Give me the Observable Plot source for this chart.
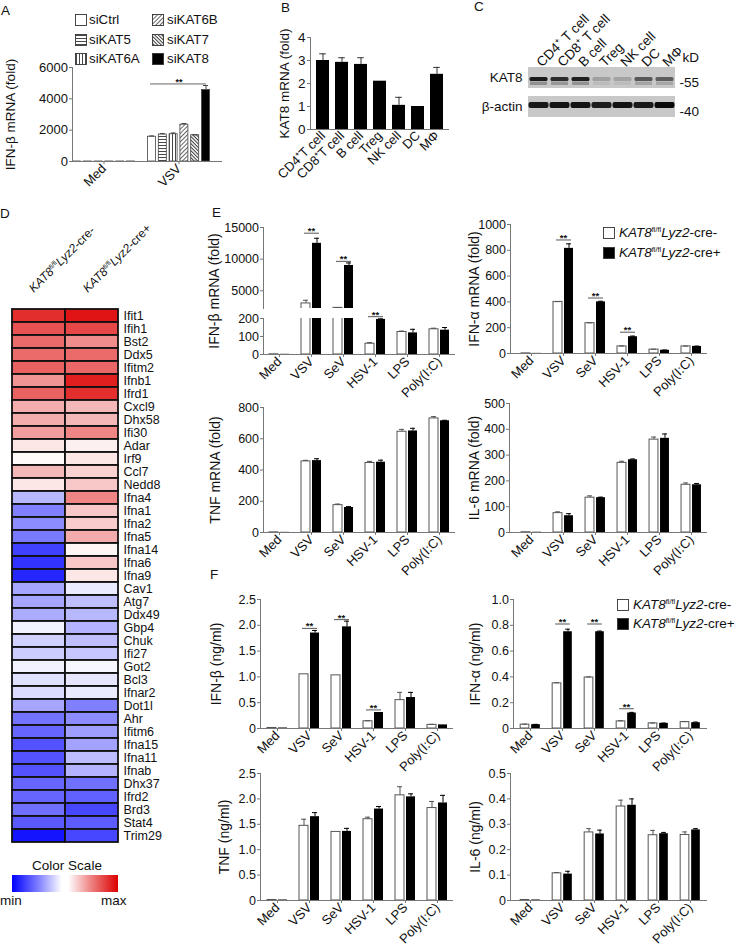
<!DOCTYPE html>
<html><head><meta charset="utf-8">
<script src="https://cdn.jsdelivr.net/npm/d3@7"></script>
<script src="https://cdn.jsdelivr.net/npm/@observablehq/plot@0.6"></script>
<style>
body{margin:0;background:#fff;font-family:"Liberation Sans",Arial,Helvetica,sans-serif;}
#page{position:relative;width:735px;height:947px;overflow:hidden;background:#fff;}
.t{position:absolute;white-space:nowrap;line-height:1;color:#111;}
.sup{font-size:0.55em;vertical-align:0.65em;line-height:0;}
</style></head><body>
<svg width="0" height="0" style="position:absolute">
<defs>
<pattern id="ph" patternUnits="userSpaceOnUse" width="4" height="3"><rect width="4" height="3" fill="#fff"/><line x1="0" y1="1.5" x2="4" y2="1.5" stroke="#333" stroke-width="0.9"/></pattern>
<pattern id="pv" patternUnits="userSpaceOnUse" width="3" height="4"><rect width="3" height="4" fill="#fff"/><line x1="1.5" y1="0" x2="1.5" y2="4" stroke="#333" stroke-width="0.9"/></pattern>
<pattern id="pd1" patternUnits="userSpaceOnUse" width="3" height="3" patternTransform="rotate(45)"><rect width="3" height="3" fill="#fff"/><line x1="1.5" y1="0" x2="1.5" y2="3" stroke="#555" stroke-width="0.9"/></pattern>
<pattern id="pd2" patternUnits="userSpaceOnUse" width="2.5" height="2.5" patternTransform="rotate(-45)"><rect width="2.5" height="2.5" fill="#fff"/><line x1="1.25" y1="0" x2="1.25" y2="2.5" stroke="#333" stroke-width="1"/></pattern>
</defs></svg>
<div id="page"></div>
<script>
// ---------------- DATA ----------------
// Panel A
const aCats = ["Med", "VSV"];
const aSeries = ["siCtrl", "siKAT5", "siKAT6A", "siKAT6B", "siKAT7", "siKAT8"];
const aMed = [1, 1, 1, 1, 1, 1];
const aVSV = [1580, 1720, 1740, 2350, 1680, 4560];
const aVSVErr = [1630, 1780, 1820, 2420, 1700, 4850];
const aSigY = 4950;
const aTicks = [0, 2000, 4000, 6000];

// Panel B
const bCells = ["CD4⁺T cell", "CD8⁺T cell", "B cell", "Treg", "NK cell", "DC", "MΦ"];
const bVals = [3.0, 2.92, 2.83, 2.1, 1.05, 1.0, 2.4];
const bErr = [3.29, 3.12, 3.12, 2.1, 1.4, 1.0, 2.7];
const bTicks = [0, 1, 2, 3, 4];

// Panel C (western blot band intensities)
const cLanes = ["CD4⁺ T cell", "CD8⁺ T cell", "B cell", "Treg", "NK cell", "DC", "MΦ"];
const cRows = ["KAT8", "β-actin"];
const cKat8 = [0.95, 0.85, 0.92, 0.22, 0.2, 0.62, 0.58];
const cActin = [0.92, 0.95, 0.95, 0.9, 0.95, 0.92, 1.0];
const cMarkers = ["-55", "-40"];

// Panel D (heatmap, scaled -1 = min ... 1 = max)
const dGenes = ["Ifit1","Ifih1","Bst2","Ddx5","Ifitm2","Ifnb1","Ifrd1","Cxcl9","Dhx58","Ifi30","Adar","Irf9","Ccl7","Nedd8","Ifna4","Ifna1","Ifna2","Ifna5","Ifna14","Ifna6","Ifna9","Cav1","Atg7","Ddx49","Gbp4","Chuk","Ifi27","Got2","Bcl3","Ifnar2","Dot1l","Ahr","Ifitm6","Ifna15","Ifna11","Ifnab","Dhx37","Ifrd2","Brd3","Stat4","Trim29"];
const dNeg = [0.82,0.68,0.58,0.58,0.62,0.42,0.62,0.32,0.32,0.38,0.1,0.02,0.28,0.1,-0.28,-0.5,-0.45,-0.52,-0.75,-0.8,-0.85,-0.35,-0.35,-0.33,-0.05,-0.18,-0.2,-0.05,-0.12,-0.14,-0.35,-0.55,-0.6,-0.68,-0.68,-0.68,-0.6,-0.6,-0.56,-0.65,-0.92];
const dPos = [0.92,0.72,0.45,0.58,0.6,0.88,0.82,0.28,0.28,0.48,0.06,0.1,0.18,0.22,0.48,0.22,0.2,0.33,0.04,0.22,0.1,-0.08,-0.25,-0.28,-0.3,-0.25,-0.22,-0.03,-0.1,-0.08,-0.5,-0.45,-0.38,-0.36,-0.26,-0.3,-0.56,-0.62,-0.72,-0.64,-0.72];

// Panels E / F
const stim = ["Med", "VSV", "SeV", "HSV-1", "LPS", "Poly(I:C)"];
const eIfnbNeg = [1, 3000, 2300, 60, 125, 140];
const eIfnbNegErr = [1, 3500, 2350, 66, 130, 146];
const eIfnbPos = [1, 12500, 9000, 195, 120, 135];
const eIfnbPosErr = [1, 13300, 9400, 198, 140, 150];
const sigCats = ["VSV", "SeV", "HSV-1"];
const eIfnbSigY = [14100, 9650, 210];

const eIfnaNeg = [1, 400, 235, 55, 30, 55];
const eIfnaNegErr = [1, 402, 238, 58, 33, 57];
const eIfnaPos = [1, 815, 400, 130, 25, 55];
const eIfnaPosErr = [1, 850, 405, 135, 27, 57];
const eIfnaSigY = [880, 430, 165];

const eTnfNeg = [1, 455, 175, 445, 645, 730];
const eTnfNegErr = [1, 462, 182, 455, 660, 742];
const eTnfPos = [1, 460, 160, 450, 650, 715];
const eTnfPosErr = [1, 472, 166, 463, 667, 718];

const eIl6Neg = [1, 75, 135, 270, 360, 185];
const eIl6NegErr = [1, 80, 142, 276, 370, 192];
const eIl6Pos = [1, 65, 135, 282, 365, 185];
const eIl6PosErr = [1, 73, 137, 285, 382, 190];

const fIfnbNeg = [0.01, 1.05, 1.03, 0.14, 0.55, 0.07];
const fIfnbNegErr = [0.01, 1.05, 1.03, 0.15, 0.7, 0.08];
const fIfnbPos = [0.01, 1.85, 1.97, 0.31, 0.6, 0.07];
const fIfnbPosErr = [0.01, 1.9, 2.08, 0.31, 0.7, 0.07];
const fIfnbSigY = [1.94, 2.11, 0.36];

const fIfnaNeg = [0.03, 0.35, 0.395, 0.055, 0.04, 0.05];
const fIfnaNegErr = [0.033, 0.355, 0.4, 0.06, 0.042, 0.053];
const fIfnaPos = [0.03, 0.75, 0.75, 0.12, 0.04, 0.045];
const fIfnaPosErr = [0.032, 0.77, 0.755, 0.125, 0.042, 0.05];
const fIfnaSigY = [0.81, 0.81, 0.153];

const fTnfNeg = [0.01, 1.47, 1.35, 1.6, 2.07, 1.82];
const fTnfNegErr = [0.01, 1.6, 1.35, 1.64, 2.24, 1.95];
const fTnfPos = [0.01, 1.65, 1.36, 1.8, 2.04, 1.92];
const fTnfPosErr = [0.01, 1.73, 1.42, 1.85, 2.1, 2.07];

const fIl6Neg = [0.002, 0.107, 0.268, 0.37, 0.257, 0.258];
const fIl6NegErr = [0.002, 0.11, 0.283, 0.395, 0.276, 0.27];
const fIl6Pos = [0.002, 0.104, 0.262, 0.375, 0.263, 0.278];
const fIl6PosErr = [0.002, 0.115, 0.277, 0.4, 0.268, 0.283];

const legendNeg = '<i>KAT8</i><span class="sup">fl/fl</span><i>Lyz2</i>-cre-';
const legendPos = '<i>KAT8</i><span class="sup">fl/fl</span><i>Lyz2</i>-cre+';

// ---------------- HELPERS ----------------
const AX = "#777";
const STYLE = {fontFamily: "'Liberation Sans', Arial, Helvetica, sans-serif", fontSize: "12.5px", overflow: "visible", background: "transparent", color: "#111"};
const page = document.getElementById("page");
const intFmt = d => String(d);
const decFmt = d => d === 0 ? "0" : d.toFixed(1);

function put(node, left, top) {
  node.style.position = "absolute";
  node.style.left = left + "px";
  node.style.top = top + "px";
  page.appendChild(node);
  return node;
}
function txt(html, left, cy, fs, center) {
  const d = document.createElement("div");
  d.className = "t";
  d.style.fontSize = fs + "px";
  d.innerHTML = html;
  put(d, left, cy - fs / 2);
  if (center) d.style.transform = "translateX(-50%)";
  return d;
}
function rot(html, x, yBase, fs) {
  const d = document.createElement("div");
  d.className = "t";
  d.style.fontSize = fs + "px";
  d.innerHTML = html;
  d.style.transformOrigin = `0 ${0.85 * fs}px`;
  d.style.transform = "rotate(-45deg)";
  put(d, x, yBase - 0.85 * fs);
}
function swatch(fill, x, cy, size = 11) {
  const ns = "http://www.w3.org/2000/svg";
  const s = document.createElementNS(ns, "svg");
  s.setAttribute("width", size + 1); s.setAttribute("height", size + 1);
  const r = document.createElementNS(ns, "rect");
  r.setAttribute("x", 0.5); r.setAttribute("y", 0.5);
  r.setAttribute("width", size); r.setAttribute("height", size);
  r.setAttribute("fill", fill); r.setAttribute("stroke", "#333"); r.setAttribute("stroke-width", 0.9);
  s.appendChild(r);
  put(s, x, cy - (size + 1) / 2);
}
function yLabel(label, dx, dy, fs) {
  return Plot.text([label], {frameAnchor: "left", textAnchor: "middle", lineAnchor: "middle", rotate: -90, dx, dy: dy || 0, fontSize: fs});
}

// ---------------- PANEL A ----------------
(function () {
  const x0 = 72, x1 = 222, y0 = 67, y1 = 161, ml = 72, mr = 10, mt = 10, mb = 60;
  const B = 75, step = 10.8, bw = 8;
  const fills = ["#fff", "url(#ph)", "url(#pv)", "url(#pd1)", "url(#pd2)", "#000"];
  const marks = [];
  aSeries.forEach((s, i) => {
    const rows = [{cat: aCats[0], v: aMed[i], e: aMed[i]}, {cat: aCats[1], v: aVSV[i], e: aVSVErr[i]}];
    const off = (i - 2.5) * step;
    const il = B / 2 + off - bw / 2;
    marks.push(Plot.barY(rows, {x: "cat", y: "v", fill: fills[i], stroke: "#444", strokeWidth: 0.8, insetLeft: il, insetRight: B - il - bw}));
    const er = rows.filter(d => d.e > d.v);
    marks.push(Plot.ruleX(er, {x: "cat", y1: "v", y2: "e", dx: off, stroke: "#444"}));
    marks.push(Plot.tickY(er, {x: "cat", y: "e", insetLeft: B / 2 + off - 2.5, insetRight: B / 2 - off - 2.5, stroke: "#444"}));
  });
  const sig = [{cat: "VSV", y: aSigY}];
  marks.push(
    Plot.tickY(sig, {x: "cat", y: "y", insetLeft: 9, insetRight: 10, stroke: "#666"}),
    Plot.text(sig, {x: "cat", y: "y", text: () => "**", dy: -2, fontSize: 9, fontWeight: "bold"}),
    Plot.frame({anchor: "left", stroke: AX}),
    Plot.ruleY([0], {stroke: AX}),
    Plot.axisY({ticks: aTicks, tickFormat: intFmt, tickSize: 3, tickPadding: 1.5, stroke: AX, label: null, fontSize: 13}),
    Plot.axisX({tickRotate: -45, tickSize: 3, tickPadding: 2, stroke: AX, label: null, fontSize: 13}),
    yLabel("IFN-β mRNA (fold)", -62, 0, 13.5)
  );
  const svg = Plot.plot({
    width: ml + (x1 - x0) + mr, height: mt + (y1 - y0) + mb,
    marginLeft: ml, marginRight: mr, marginTop: mt, marginBottom: mb,
    x: {domain: aCats, range: [ml - 6, ml + 144], padding: 0, axis: null},
    y: {domain: [0, 6000], axis: null},
    style: STYLE, marks
  });
  put(svg, x0 - ml, y0 - mt);
  const cols = [[75, 89], [152, 167]];
  const rowsY = [20, 39.5, 59];
  aSeries.forEach((s, i) => {
    const c = cols[Math.floor(i / 3)], cy = rowsY[i % 3];
    swatch(fills[i], c[0], cy);
    txt(s, c[1], cy, 13.3);
  });
})();

// ---------------- PANEL B ----------------
(function () {
  const x0 = 310, x1 = 449, y0 = 37, y1 = 129, ml = 60, mr = 10, mt = 10, mb = 70;
  const rows = bCells.map((c, i) => ({cat: c, v: bVals[i], e: bErr[i]}));
  const er = rows.filter(d => d.e > d.v);
  const svg = Plot.plot({
    width: ml + (x1 - x0) + mr, height: mt + (y1 - y0) + mb,
    marginLeft: ml, marginRight: mr, marginTop: mt, marginBottom: mb,
    x: {domain: bCells, paddingInner: 0.32, paddingOuter: 0.2, axis: null},
    y: {domain: [0, 4], axis: null},
    style: STYLE,
    marks: [
      Plot.ruleX(er, {x: "cat", y1: "v", y2: "e", stroke: "#333"}),
      Plot.tickY(er, {x: "cat", y: "e", insetLeft: 3.2, insetRight: 3.2, stroke: "#333"}),
      Plot.barY(rows, {x: "cat", y: "v", fill: "#000"}),
      Plot.frame({anchor: "left", stroke: AX}),
      Plot.ruleY([0], {stroke: AX}),
      Plot.axisY({ticks: bTicks, tickFormat: intFmt, tickSize: 3, tickPadding: 2, stroke: AX, label: null, fontSize: 13.5}),
      Plot.axisX({tickRotate: -45, tickSize: 0, tickPadding: 4, stroke: AX, label: null, fontSize: 13}),
      yLabel("KAT8 mRNA (fold)", -26, 0, 13.5)
    ]
  });
  put(svg, x0 - ml, y0 - mt);
})();

// ---------------- PANEL C ----------------
(function () {
  const x0 = 527, x1 = 676, y0 = 67, y1 = 117, ml = 75, mr = 45, mt = 62, mb = 8;
  const bg = cRows.flatMap(r => cLanes.map(l => ({lane: l, row: r})));
  const k = cLanes.map((l, i) => ({lane: l, row: cRows[0], v: cKat8[i]}));
  const a = cLanes.map((l, i) => ({lane: l, row: cRows[1], v: cActin[i]}));
  const m = cRows.map((r, i) => ({row: r, t: cMarkers[i]}));
  const svg = Plot.plot({
    width: ml + (x1 - x0) + mr, height: mt + (y1 - y0) + mb,
    marginLeft: ml, marginRight: mr, marginTop: mt, marginBottom: mb,
    x: {domain: cLanes, padding: 0, axis: null},
    y: {domain: cRows, paddingInner: 0.28, paddingOuter: 0, axis: null},
    style: STYLE,
    marks: [
      Plot.cell(bg, {x: "lane", y: "row", fill: "#c8c8c8", inset: 0}),
      Plot.cell(k, {x: "lane", y: "row", fill: "#111", fillOpacity: "v", insetTop: 10, insetBottom: 7, insetLeft: 1.5, insetRight: 1.5, rx: 1.5, ariaLabel: "band"}),
      Plot.cell(k, {x: "lane", y: "row", fill: "#222", fillOpacity: d => d.v * 0.35, insetTop: 14.5, insetBottom: 3, insetLeft: 2, insetRight: 2, ariaLabel: "band"}),
      Plot.cell(a, {x: "lane", y: "row", fill: "#0a0a0a", fillOpacity: "v", insetTop: 6, insetBottom: 9, insetLeft: 0.5, insetRight: 0.5, rx: 2, ariaLabel: "band"}),
      Plot.axisY({anchor: "left", tickSize: 0, tickPadding: 5, fontSize: 13.5, label: null}),
      Plot.axisX({anchor: "top", tickRotate: -45, tickSize: 0, tickPadding: 3, fontSize: 13.5, label: null}),
      Plot.text(m, {y: "row", text: "t", frameAnchor: "right", textAnchor: "start", dx: 3, dy: 5, fontSize: 13.5}),
      Plot.text(["kD"], {frameAnchor: "top-right", textAnchor: "start", dx: 6, dy: -15, fontSize: 13.5})
    ]
  });
  svg.querySelectorAll('[aria-label="band"]').forEach(g => g.style.filter = "blur(0.7px)");
  put(svg, x0 - ml, y0 - mt);
})();

// ---------------- PANEL D ----------------
(function () {
  const x0 = 12, x1 = 118, y0 = 297, y1 = 853, ml = 12, mr = 80, mt = 8, mb = 8;
  const rows = dGenes.flatMap((g, i) => [{col: "neg", gene: g, v: dNeg[i]}, {col: "pos", gene: g, v: dPos[i]}]);
  const svg = Plot.plot({
    width: ml + (x1 - x0) + mr, height: mt + (y1 - y0) + mb,
    marginLeft: ml, marginRight: mr, marginTop: mt, marginBottom: mb,
    x: {domain: ["neg", "pos"], padding: 0, axis: null},
    y: {domain: dGenes, padding: 0, axis: null},
    color: {type: "linear", domain: [-1, 0, 1], range: ["#0000ff", "#ffffff", "#dd0000"]},
    style: STYLE,
    marks: [
      Plot.cell(rows, {x: "col", y: "gene", fill: "v", stroke: "#111", strokeWidth: 1.8, inset: 0}),
      Plot.axisY({anchor: "right", tickSize: 0, tickPadding: 5, fontSize: 12.5, label: null})
    ]
  });
  put(svg, x0 - ml, y0 - mt);
  rot(legendNeg, 34, 293, 12);
  rot(legendPos, 88, 293, 12);
  txt("Color Scale", 67, 866, 13.5, true);
  const g = document.createElement("div");
  g.style.width = "106px"; g.style.height = "17px";
  g.style.background = "linear-gradient(to right, #0000ff 0%, #8080ff 25%, #ffffff 47%, #ffffff 53%, #ee8080 75%, #dd0000 100%)";
  put(g, 12, 875);
  txt("min", 0, 901, 13.5);
  txt("max", 101, 901, 13.5);
})();

// ---------------- PANELS E / F ----------------
function grouped(o) {
  const ml = 60, mr = 8, mt = 14, mb = 62;
  const fw = o.x1 - o.x0, fh = o.y1 - o.y0;
  const inL = o.inL || 0;
  const B = (fw - inL) / stim.length, c = B / 2;
  const mk = (v, e) => stim.map((cat, i) => ({cat, v: v[i], e: e[i]}));
  const neg = mk(o.neg, o.negE), pos = mk(o.pos, o.posE);
  const clip = !!o.clip;
  const sig = (o.sigY ? sigCats : []).map((cat, i) => ({cat, y: o.sigY[i]})).filter(o.sigFilter || (() => true));
  const negE = neg.filter(d => d.e > d.v), posE = pos.filter(d => d.e > d.v);
  const marks = [
    Plot.barY(neg, {x: "cat", y: "v", fill: "#fff", stroke: "#555", strokeWidth: 1, insetLeft: c - 10, insetRight: c + 1, clip}),
    Plot.barY(pos, {x: "cat", y: "v", fill: "#000", insetLeft: c + 1, insetRight: c - 10, clip}),
    Plot.ruleX(negE, {x: "cat", y1: "v", y2: "e", dx: -5.5, stroke: "#555", clip}),
    Plot.tickY(negE, {x: "cat", y: "e", insetLeft: c - 8, insetRight: c + 3, stroke: "#555", clip}),
    Plot.ruleX(posE, {x: "cat", y1: "v", y2: "e", dx: 5.5, stroke: "#000", clip}),
    Plot.tickY(posE, {x: "cat", y: "e", insetLeft: c + 3, insetRight: c - 8, stroke: "#000", clip}),
    Plot.tickY(sig, {x: "cat", y: "y", insetLeft: c - 7, insetRight: c - 8, stroke: "#555"}),
    Plot.text(sig, {x: "cat", y: "y", text: () => "**", dy: -2, fontSize: 9.5, fontWeight: "bold"}),
    Plot.frame({anchor: "left", stroke: AX}),
    Plot.axisY({ticks: o.ticks, tickFormat: o.fmt || intFmt, tickSize: 3, tickPadding: 1.5, stroke: AX, label: null})
  ];
  if (o.baseline !== false) marks.push(Plot.ruleY([o.domain[0]], {stroke: AX}));
  if (o.xAxis !== false) marks.push(Plot.axisX({tickRotate: -45, tickSize: 3, tickPadding: 2, stroke: AX, label: null, fontSize: 13}));
  if (o.label) marks.push(yLabel(o.label, o.labelDx, o.labelDy, 14));
  const svg = Plot.plot({
    width: ml + fw + mr, height: mt + fh + mb,
    marginLeft: ml, marginRight: mr, marginTop: mt, marginBottom: mb,
    x: {domain: stim, padding: 0, insetLeft: inL, axis: null},
    y: {domain: o.domain, axis: null},
    style: STYLE, marks
  });
  put(svg, o.x0 - ml, o.y0 - mt);
}

grouped({x0: 263, x1: 455, y0: 227, y1: 308, domain: [2200, 15000], ticks: [5000, 10000, 15000],
  neg: eIfnbNeg, negE: eIfnbNegErr, pos: eIfnbPos, posE: eIfnbPosErr, clip: true, xAxis: false, baseline: false,
  sigY: eIfnbSigY, sigFilter: d => d.y >= 2200,
  label: "IFN-β mRNA (fold)", labelDx: -49, labelDy: 23});
grouped({x0: 263, x1: 455, y0: 318, y1: 354, domain: [0, 200], ticks: [0, 100, 200],
  neg: eIfnbNeg, negE: eIfnbNegErr, pos: eIfnbPos, posE: eIfnbPosErr, clip: true,
  sigY: eIfnbSigY, sigFilter: d => d.y < 2200});
grouped({x0: 510, x1: 707, y0: 224, y1: 353, inL: 5, domain: [0, 1000], ticks: [0, 200, 400, 600, 800, 1000],
  neg: eIfnaNeg, negE: eIfnaNegErr, pos: eIfnaPos, posE: eIfnaPosErr,
  sigY: eIfnaSigY, label: "IFN-α mRNA (fold)", labelDx: -36});
grouped({x0: 263, x1: 455, y0: 407, y1: 532, domain: [0, 800], ticks: [0, 200, 400, 600, 800],
  neg: eTnfNeg, negE: eTnfNegErr, pos: eTnfPos, posE: eTnfPosErr, label: "TNF mRNA (fold)", labelDx: -48});
grouped({x0: 509, x1: 707, y0: 403, y1: 532, inL: 5.5, domain: [0, 500], ticks: [0, 100, 200, 300, 400, 500],
  neg: eIl6Neg, negE: eIl6NegErr, pos: eIl6Pos, posE: eIl6PosErr, label: "IL-6 mRNA (fold)", labelDx: -35});
grouped({x0: 260, x1: 453, y0: 599, y1: 728, inL: 1, domain: [0, 2.5], ticks: [0, 0.5, 1, 1.5, 2, 2.5], fmt: decFmt,
  neg: fIfnbNeg, negE: fIfnbNegErr, pos: fIfnbPos, posE: fIfnbPosErr,
  sigY: fIfnbSigY, label: "IFN-β (ng/ml)", labelDx: -44});
grouped({x0: 513, x1: 707, y0: 599, y1: 728, inL: 0, domain: [0, 1], ticks: [0, 0.2, 0.4, 0.6, 0.8, 1], fmt: decFmt,
  neg: fIfnaNeg, negE: fIfnaNegErr, pos: fIfnaPos, posE: fIfnaPosErr,
  sigY: fIfnaSigY, label: "IFN-α (ng/ml)", labelDx: -38});
grouped({x0: 260, x1: 453, y0: 773, y1: 900, inL: 1, domain: [0, 2.5], ticks: [0, 0.5, 1, 1.5, 2, 2.5], fmt: decFmt,
  neg: fTnfNeg, negE: fTnfNegErr, pos: fTnfPos, posE: fTnfPosErr, label: "TNF (ng/ml)", labelDx: -36});
grouped({x0: 510, x1: 707, y0: 773, y1: 900, inL: 3, domain: [0, 0.5], ticks: [0, 0.1, 0.2, 0.3, 0.4, 0.5], fmt: decFmt,
  neg: fIl6Neg, negE: fIl6NegErr, pos: fIl6Pos, posE: fIl6PosErr, label: "IL-6 (ng/ml)", labelDx: -35});

swatch("#fff", 603, 232.5); txt(legendNeg, 619, 232.5, 13.5);
swatch("#000", 603, 252.5); txt(legendPos, 619, 252.5, 13.5);
swatch("#fff", 617, 605); txt(legendNeg, 633, 605, 13.5);
swatch("#000", 617, 624); txt(legendPos, 633, 624, 13.5);

txt("A", 1, 10.5, 13.5);
txt("B", 281, 8, 13.5);
txt("C", 474, 6.5, 13.5);
txt("D", 0, 214, 13.5);
txt("E", 212, 213, 13.5);
txt("F", 210, 575, 13.5);
</script>
</body></html>
